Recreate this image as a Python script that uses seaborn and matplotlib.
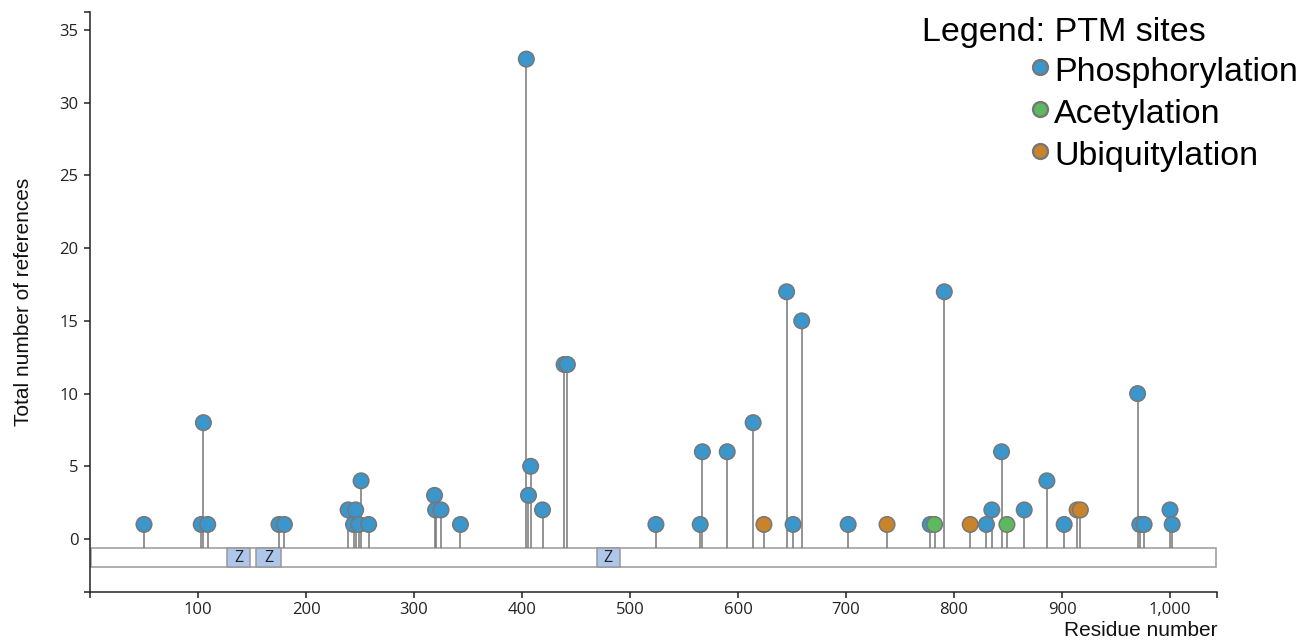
import pandas as pd
import matplotlib
matplotlib.use("Agg")
import matplotlib.pyplot as plt
import seaborn as sns
from matplotlib.patches import Rectangle
from matplotlib.ticker import FuncFormatter

# PTM sites (residue, number of references)
phospho_pos = [50, 103, 105, 109, 175, 180, 239, 244, 246, 249, 251, 258,
               319, 320, 325, 343, 404, 406, 408, 419, 439, 442, 524, 565,
               567, 590, 614, 645, 651, 659, 702, 778, 791, 830, 835, 844,
               865, 886, 902, 970, 972, 976, 1000, 1002]
phospho_refs = [1, 1, 8, 1, 1, 1, 2, 1, 2, 1, 4, 1,
                3, 2, 2, 1, 33, 3, 5, 2, 12, 12, 1, 1,
                6, 6, 8, 17, 1, 15, 1, 1, 17, 1, 2, 6,
                2, 4, 1, 10, 1, 1, 2, 1]
acetyl_pos = [782, 849]
acetyl_refs = [1, 1]
ubiq_pos = [624, 738, 815, 914, 917]
ubiq_refs = [1, 1, 1, 2, 2]

ptm_types = ["Phosphorylation", "Acetylation", "Ubiquitylation"]
ptm_colors = ["#3b96cc", "#5db95d", "#c8832b"]

# protein and domains
protein_length = 1043
domain_start = [127, 154, 469]
domain_end = [148, 177, 491]
domain_label = ["Z", "Z", "Z"]

df = pd.concat([
    pd.DataFrame({"residue": phospho_pos, "refs": phospho_refs, "ptm": ptm_types[0]}),
    pd.DataFrame({"residue": acetyl_pos, "refs": acetyl_refs, "ptm": ptm_types[1]}),
    pd.DataFrame({"residue": ubiq_pos, "refs": ubiq_refs, "ptm": ptm_types[2]}),
], ignore_index=True)

sns.set_style("white")
plt.rcParams["font.family"] = ["Liberation Sans", "DejaVu Sans"]
plt.rcParams["text.color"] = "black"

W, H = 1310, 644
fig = plt.figure(figsize=(W / 100, H / 100), dpi=100)
ax = fig.add_axes([90 / W, (H - 592) / H, (1217 - 90) / W, (592 - 12) / H])

ymin, ymax = -3.645, 36.24
xmax = 1043.5
bar_top, bar_bot = -0.62, -1.93
grey = "#777777"

# protein bar + domains
ax.add_patch(Rectangle((1, bar_bot), protein_length - 1, bar_top - bar_bot,
                       facecolor="white", edgecolor="#999999", lw=1.1, zorder=1))
for s, e, lab in zip(domain_start, domain_end, domain_label):
    ax.add_patch(Rectangle((s, bar_bot), e - s, bar_top - bar_bot,
                           facecolor="#aec6ea", edgecolor="#999999", lw=1.1, zorder=1.5))
    ax.text((s + e) / 2, (bar_top + bar_bot) / 2 - 0.05, lab, ha="center", va="center",
            fontsize=11.5, family="Open Sans", color="#222222", zorder=1.6)

# stems
ax.vlines(df["residue"], bar_top, df["refs"], color=grey, lw=1.1, zorder=2)

# lollipop heads
sns.scatterplot(data=df, x="residue", y="refs", hue="ptm",
                palette=dict(zip(ptm_types, ptm_colors)), s=125,
                edgecolor=grey, linewidth=1.1, legend=False, zorder=3, ax=ax)

ax.set_xlim(0, xmax)
ax.set_ylim(ymin, ymax)
ax.set_xticks(range(100, 1001, 100))
ax.set_yticks(range(0, 36, 5))
ax.set_xticks([0, xmax], minor=True)
ax.set_yticks([ymin, ymax], minor=True)
ax.xaxis.set_major_formatter(FuncFormatter(lambda v, p: f"{int(v):,}"))
ax.tick_params(which="both", direction="out", length=4.3, width=1.1, color="#222222",
               bottom=True, left=True)
ax.tick_params(axis="x", pad=3)
ax.tick_params(axis="y", pad=4)
for lab in ax.get_xticklabels() + ax.get_yticklabels():
    lab.set_family("Open Sans")
    lab.set_fontsize(12)
    lab.set_color("#222222")

for side in ["top", "right"]:
    ax.spines[side].set_visible(False)
for side in ["left", "bottom"]:
    ax.spines[side].set_color("#222222")
    ax.spines[side].set_linewidth(1.1)

ax.set_xlabel("Residue number", fontsize=15, loc="right", labelpad=2, color="#111111")
ax.set_ylabel("Total number of references", fontsize=15, labelpad=19, color="#111111")

# legend drawn in pixel coordinates
lax = fig.add_axes([0, 0, 1, 1], facecolor="none")
lax.set_xlim(0, W)
lax.set_ylim(H, 0)
lax.axis("off")
lax.text(922, 41, "Legend: PTM sites", fontsize=24.5, ha="left", va="baseline", color="black")
for i, (name, col) in enumerate(zip(ptm_types, ptm_colors)):
    cy = 67 + 42 * i
    lax.scatter([1040], [cy], s=115, color=col, edgecolor=grey, linewidth=1.7)
    lax.text(1054, cy + 14, name, fontsize=24.5, ha="left", va="baseline", color="black")

fig.savefig("out.png", dpi=100)
